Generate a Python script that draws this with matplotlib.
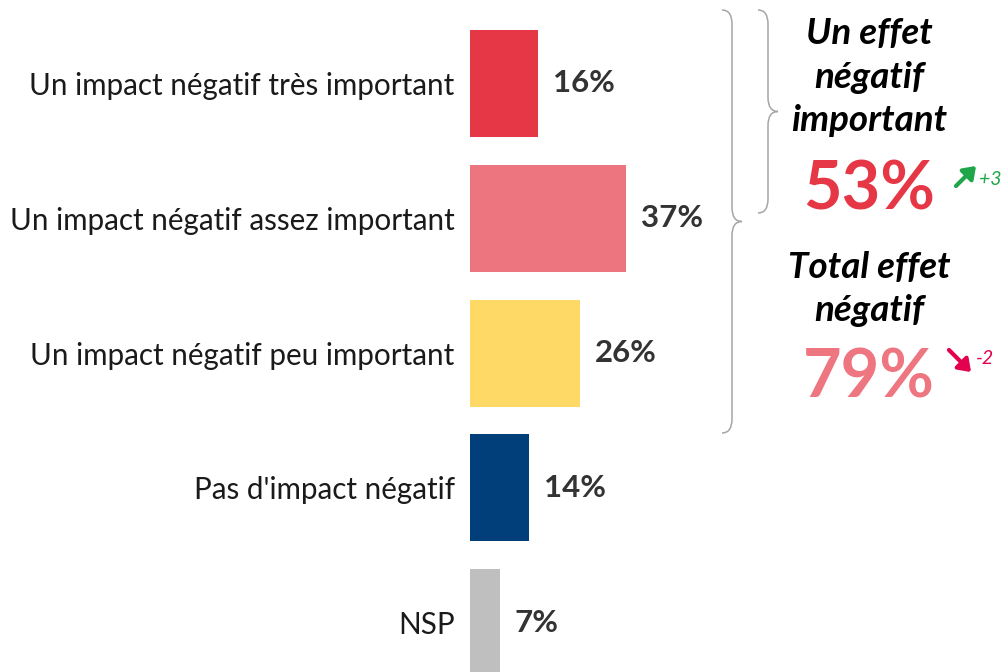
import matplotlib
matplotlib.use("Agg")
import matplotlib.pyplot as plt
from matplotlib.path import Path
from matplotlib.patches import PathPatch, FancyArrowPatch

W, H = 1006, 672
FONT = ["Lato", "DejaVu Sans"]
plt.rcParams["font.family"] = FONT

categories = ["Un impact négatif très important",
              "Un impact négatif assez important",
              "Un impact négatif peu important",
              "Pas d'impact négatif",
              "NSP"]
values = [16, 37, 26, 14, 7]
colors = ["#E63746", "#ED757F", "#FED966", "#003F79", "#BFBFBF"]

group1_title = "Un effet\nnégatif\nimportant"
group1_value = "53%"
group1_delta = "+3"
group2_title = "Total effet\nnégatif"
group2_value = "79%"
group2_delta = "-2"


def px(x, y):
    """pixel coords (top-left origin) -> figure fraction"""
    return x / W, 1 - y / H


def brace(fig, x0, xm, x1, ytop, ybot, r=14):
    ymid = (ytop + ybot) / 2
    pts = [(x0, ytop), (xm, ytop), (xm, ytop + r),
           (xm, ymid - r),
           (xm, ymid), (x1, ymid),
           (xm, ymid), (xm, ymid + r),
           (xm, ybot - r),
           (xm, ybot), (x0, ybot)]
    codes = [Path.MOVETO, Path.CURVE3, Path.CURVE3,
             Path.LINETO,
             Path.CURVE3, Path.CURVE3,
             Path.CURVE3, Path.CURVE3,
             Path.LINETO,
             Path.CURVE3, Path.CURVE3]
    path = Path([px(*p) for p in pts], codes)
    fig.add_artist(PathPatch(path, facecolor="none", edgecolor="#A6A6A6",
                             lw=1.1, transform=fig.transFigure))


fig = plt.figure(figsize=(W / 100, H / 100), dpi=100)
ax = fig.add_axes([470 / W, 0, 300 / W, 1])
step = 134.75
ax.set_ylim(4 + (H - 622.5) / step, -83.5 / step)
ax.set_xlim(0, 300 / 4.22)

ypos = list(range(len(values)))
ax.barh(ypos, values, height=107 / step, color=colors)
for y, v in zip(ypos, values):
    ax.annotate(f"{v}%", (v, y), xytext=(11, 0), textcoords="offset points",
                ha="left", va="center", fontsize=22.5, fontweight="bold",
                color="#333333")

ax.set_yticks(ypos, categories)
ax.tick_params(axis="y", length=0, pad=11, labelsize=21.3, labelcolor="#1a1a1a")
ax.set_xticks([])
for s in ax.spines.values():
    s.set_visible(False)

# braces
brace(fig, 722, 732, 742, 10, 433)
brace(fig, 758, 768, 778, 10, 213)

# right-hand summaries
fig.text(*px(869, 77), group1_title, ha="center", va="center", fontsize=26.5,
         fontweight="bold", style="italic", color="black", linespacing=1.4)
fig.text(*px(869, 190), group1_value, ha="center", va="center", fontsize=48,
         fontweight="bold", color="#E63746")
fig.text(*px(869, 289), group2_title, ha="center", va="center", fontsize=26.5,
         fontweight="bold", style="italic", color="black", linespacing=1.4)
fig.text(*px(869, 379), group2_value, ha="center", va="center", fontsize=48,
         fontweight="bold", color="#EE7680")

fig.add_artist(FancyArrowPatch(
    px(954, 188), px(978, 164), transform=fig.transFigure,
    arrowstyle="-|>,head_length=7,head_width=5", color="#1FA64A", lw=3))
fig.text(*px(979, 180), group1_delta, ha="left", va="center", fontsize=14,
         style="italic", color="#1FA64A")
fig.add_artist(FancyArrowPatch(
    px(947, 348), px(973, 374), transform=fig.transFigure,
    arrowstyle="-|>,head_length=7,head_width=5", color="#E2004F", lw=3))
fig.text(*px(976, 358), group2_delta, ha="left", va="center", fontsize=14,
         style="italic", color="#E2004F")

fig.savefig("out.png", dpi=100)
